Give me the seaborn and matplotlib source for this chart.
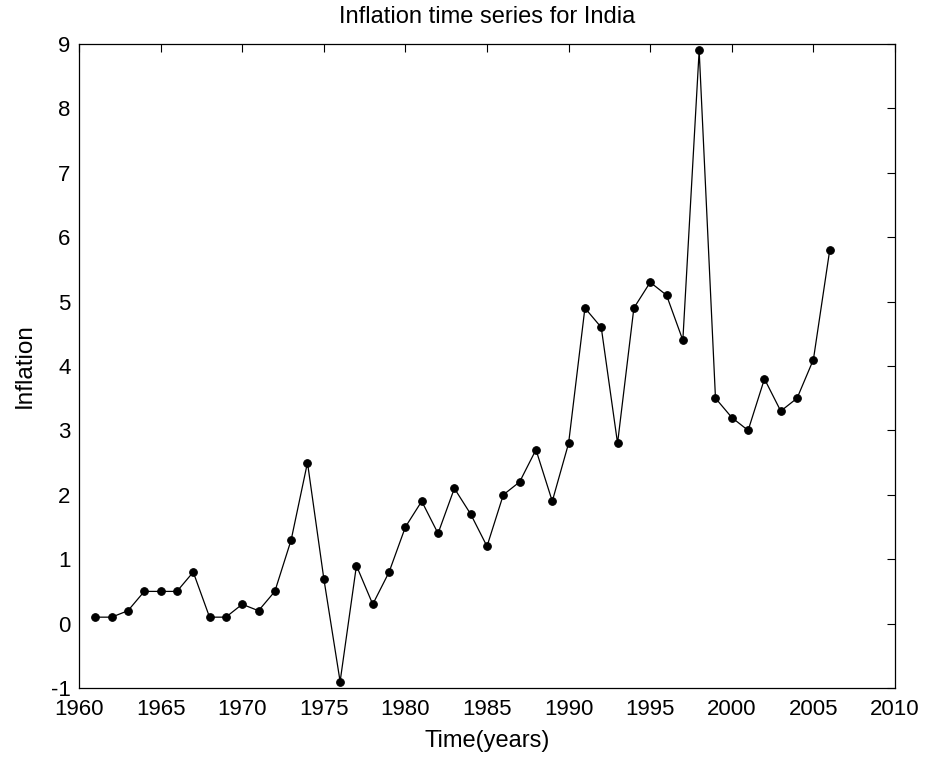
import numpy as np
import pandas as pd
import matplotlib
matplotlib.use("Agg")
import matplotlib.pyplot as plt
import seaborn as sns

# Data
years = list(range(1961, 2007))
inflation = [0.1, 0.1, 0.2, 0.5, 0.5, 0.5, 0.8, 0.1, 0.1, 0.3,
             0.2, 0.5, 1.3, 2.5, 0.7, -0.9, 0.9, 0.3, 0.8, 1.5,
             1.9, 1.4, 2.1, 1.7, 1.2, 2.0, 2.2, 2.7, 1.9, 2.8,
             4.9, 4.6, 2.8, 4.9, 5.3, 5.1, 4.4, 8.9, 3.5, 3.2,
             3.0, 3.8, 3.3, 3.5, 4.1, 5.8]
xticks = list(range(1960, 2011, 5))
yticks = list(range(-1, 10))

df = pd.DataFrame({"year": years, "inflation": inflation})

sns.set_style("white")
plt.rcParams['font.family'] = ['Liberation Sans', 'DejaVu Sans']
plt.rcParams['axes.unicode_minus'] = False
plt.rcParams['text.color'] = 'black'
plt.rcParams['axes.labelcolor'] = 'black'

fig = plt.figure(figsize=(9.27, 7.59), dpi=100)
# axes box placed as in the reference (pixels 79..895 x 44..688)
ax = fig.add_axes([79/927, 1 - 688/759, (895-79)/927, (688-44)/759])

sns.lineplot(data=df, x="year", y="inflation", ax=ax, color="black",
             linewidth=0.9, marker="o", markersize=5.5, markeredgecolor="black")

ax.set_xlim(1960, 2010)
ax.set_ylim(-1, 9)
ax.set_xticks(xticks)
ax.set_yticks(yticks)
ax.tick_params(direction="in", top=True, right=True, length=6, width=0.8,
               labelsize=16, colors="black")
ax.tick_params(axis="x", pad=8)
ax.tick_params(axis="y", pad=6)
for s in ax.spines.values():
    s.set_color("black")
    s.set_linewidth(0.9)

ax.set_title("Inflation time series for India", fontsize=17, pad=15, color="black")
ax.set_xlabel("Time(years)", fontsize=17, labelpad=7, color="black")
ax.set_ylabel("Inflation", fontsize=17.5, labelpad=11, color="black")

fig.savefig("out.png", dpi=100)
